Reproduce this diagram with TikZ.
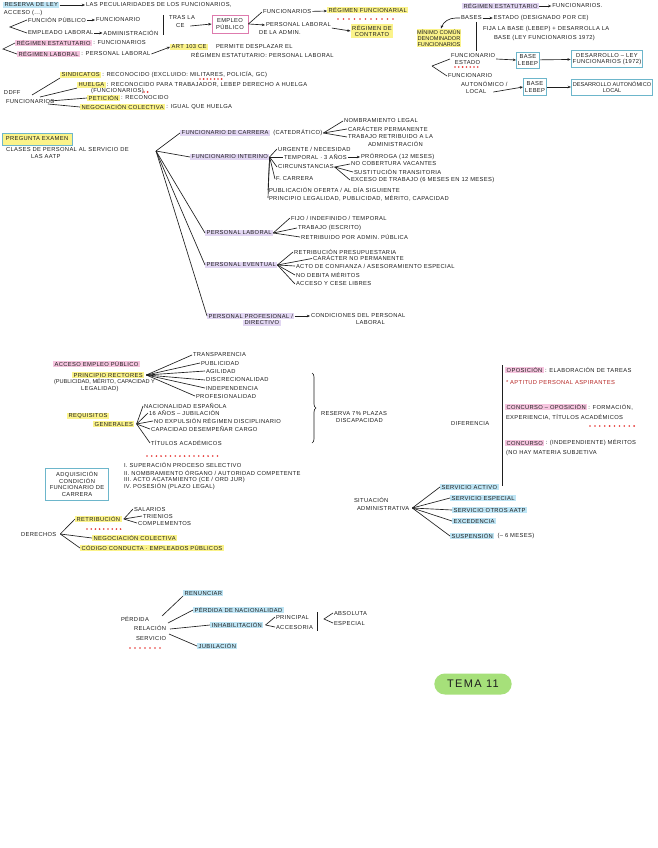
\documentclass[tikz,border=0pt]{standalone}
\usepackage{fontspec}
\setmainfont{Liberation Sans}
\usetikzlibrary{arrows.meta,positioning,decorations.pathreplacing,shapes.misc}
\definecolor{ink}{HTML}{1E1E1E}
\definecolor{yel}{HTML}{FBF38A}
\definecolor{pnk}{HTML}{F6C5DF}
\definecolor{lav}{HTML}{E2D6F3}
\definecolor{lblue}{HTML}{BEE5F5}
\definecolor{bblue}{HTML}{6DB6CB}
\definecolor{pbox}{HTML}{DE7BAE}
\definecolor{grn}{HTML}{A6E07A}
\definecolor{rdot}{HTML}{E5312F}
\newcommand\hw{\fontsize{5.8}{6.4}\selectfont\addfontfeature{LetterSpace=6}}
\newcommand\hwn{\fontsize{5.6}{6.2}\selectfont}
\newcommand\reddots[4]{\foreach \i in {1,...,#3}{\fill[rdot] (#1+\i*#4-#4,#2) circle (0.9);}}
\begin{document}
\begin{tikzpicture}[x=1pt,y=-1pt,
 t/.style={anchor=west,inner sep=0.8pt,font=\hw,text=ink},
 hy/.style={t,fill=yel,inner xsep=1.5pt},
 hp/.style={t,fill=pnk,inner xsep=1.5pt},
 hl/.style={t,fill=lav,inner xsep=1.5pt},
 hb/.style={t,fill=lblue,inner xsep=1.5pt},
 ln/.style={line width=0.65pt,draw=ink},
 ar/.style={ln,-{Stealth[length=3.2pt,width=2.6pt]}},
 bx/.style={draw=bblue,line width=0.9pt,align=center,font=\hw,text=ink,inner sep=1.5pt},
]
\fill[white] (0,0) rectangle (658,848);
\useasboundingbox (0,0) rectangle (658,848);

% ---------- top left ----------
\node[hb] (rl) at (3,5) {RESERVA DE LEY};
\node[t] (pec) at (85,5) {LAS PECULIARIDADES DE LOS FUNCIONARIOS,};
\draw[ar] (rl) -- (pec);
\node[t] (acc) at (3,13) {ACCESO (...)};
\coordinate (f1) at (10,27);
\node[t] (fp) at (27,20) {FUNCIÓN PÚBLICO};
\node[t,right=8pt of fp] (fn) {FUNCIONARIO};
\draw[ar] (fp) -- (fn);
\node[t] (el) at (27,33) {EMPLEADO LABORAL};
\node[t,right=8pt of el] (adm) {ADMINISTRACIÓN};
\draw[ar] (el) -- (adm);
\draw[ln] (fp.west) -- (f1) -- (el.west);

\draw[ln] (163,15) -- (163,35);
\node[t] (tras) at (168,18) {TRAS LA};
\node[t] (ce) at (175,26) {CE};
\node[draw=pbox,line width=0.9pt,align=center,font=\hw,text=ink,minimum width=36pt,minimum height=18pt,inner sep=1pt] (ep) at (230,24) {EMPLEO\\PÚBLICO};
\draw[ar] ([xshift=5pt]ce.east) -- (ep.west);
\node[t] (fun2) at (262,12) {FUNCIONARIOS};
\node[hy] (rf) at (327,10) {RÉGIMEN FUNCIONARIAL};
\draw[ar] (fun2) -- (rf);
\reddots{338}{19}{11}{5.5}
\draw[ln] (ep.east) -- (fun2.west);
\node[t] (plab) at (265,25) {PERSONAL LABORAL};
\node[t] (dla) at (258,33) {DE LA ADMIN.};
\draw[ar] (ep.east) -- (plab.west);
\node[hy,anchor=center,align=center] (rc) at (372,31) {RÉGIMEN DE\\CONTRATO};
\draw[ar] (plab.south east) -- (rc.west);

\node[hp] (re1) at (15,43) {RÉGIMEN ESTATUTARIO};
\node[t,right=0pt of re1] (re1b) {: FUNCIONARIOS};
\node[hp] (rl1) at (17,54) {RÉGIMEN LABORAL};
\node[t,right=0pt of rl1] (rl1b) {: PERSONAL LABORAL};
\coordinate (f2) at (3,49);
\draw[ln] (re1.west) -- (f2) -- (rl1.west);
\node[hy] (art) at (170,47) {ART 103 CE};
\node[t] (perm) at (215,47) {PERMITE DESPLAZAR EL};
\node[t] (rep) at (190,55) {RÉGIMEN ESTATUTARIO: PERSONAL LABORAL};
\draw[ar] (rl1b.east) -- (art.west);

% ---------- top right ----------
\node[hl] (rest) at (462,6) {RÉGIMEN ESTATUTARIO};
\node[t,right=12pt of rest] (rfun) {FUNCIONARIOS.};
\draw[ar] (rest) -- (rfun);
\node[t] (bases) at (460,18) {BASES};
\node[t,right=10pt of bases] (estado) {ESTADO (DESIGNADO POR CE)};
\draw[ar] (bases) -- (estado);
\node[hy,anchor=center,align=center,inner sep=0.6pt,font=\hwn] (mcd) at (439,38) {MÍNIMO COMÚN\\DENOMINADOR\\FUNCIONARIOS};
\draw[ar] (bases.west) -- ++(-4,0) to[out=180,in=70] ([xshift=2pt]mcd.north);
\draw[ln] (476,22) -- (476,51);
\node[t] (fija) at (482,29) {FIJA LA BASE (LEBEP) + DESARROLLA LA};
\node[t] (base72) at (493,38) {BASE (LEY FUNCIONARIOS 1972)};

\node[t,align=left] (fest) at (450,59) {FUNCIONARIO\\\ \ ESTADO};
\reddots{455}{67}{7}{3.8}
\node[t] (faut1) at (447,76) {FUNCIONARIO};
\node[t] (faut2) at (460,84) {AUTONÓMICO /};
\node[t] (faut3) at (465,92) {LOCAL};
\coordinate (f3) at (432,66);
\draw[ln] (f3) -- (fest.west);
\draw[ln] (f3) -- (faut1.west);
\node[bx,minimum width=22pt,minimum height=16pt] (bl1) at (528,60) {BASE\\LEBEP};
\node[bx,minimum height=17pt] (dl1) at (607,59) {DESARROLLO – LEY\\FUNCIONARIOS (1972)};
\draw[ar] (fest.east) -- (bl1.west);
\draw[ar] (bl1) -- (dl1);
\node[bx,minimum width=22pt,minimum height=17pt] (bl2) at (535,87) {BASE\\LEBEP};
\node[bx,minimum height=16pt,font=\hwn] (dl2) at (612,87) {DESARROLLO AUTONÓMICO\\LOCAL};
\draw[ar] ([xshift=6pt]faut3.east) -- (bl2.west);
\draw[ar] (bl2) -- (dl2);

% ---------- DDFF ----------
\node[t] (dd1) at (3,93) {DDFF};
\node[t] (dd2) at (5,102) {FUNCIONARIOS};
\node[hy] (sind) at (60,75) {SINDICATOS};
\node[t,right=0pt of sind] (sindb) {: RECONOCIDO (EXCLUIDO: MILITARES, POLICÍA, GC)};
\node[hy] (hue) at (77,85) {HUELGA};
\node[t,right=0pt of hue] (hueb) {: RECONOCIDO PARA TRABAJADOR, LEBEP DERECHO A HUELGA};
\reddots{200}{79}{7}{3.6}
\node[t] (hue2) at (90,91) {(FUNCIONARIOS)};
\reddots{144}{92}{2}{3.6}
\node[hy] (pet) at (87,98) {PETICIÓN};
\node[t,right=0pt of pet] (petb) {: RECONOCIDO};
\node[hy] (neg) at (80,107) {NEGOCIACIÓN COLECTIVA};
\node[t,right=0pt of neg] (negb) {: IGUAL QUE HUELGA};
\coordinate (d1) at (32,95);
\coordinate (d2) at (40,97);
\coordinate (d3) at (50,101);
\coordinate (d4) at (48,104);
\draw[ln] (d1) -- (sind.south west);
\draw[ln] (d2) -- (hue.south west);
\draw[ln] (d3) -- (pet.west);
\draw[ln] (d4) -- (neg.west);

% ---------- clases de personal ----------
\node[draw=bblue,fill=yel,line width=0.9pt,font=\hw,text=ink,minimum width=70pt,minimum height=12pt,inner sep=1pt] (pe) at (37,139) {PREGUNTA EXAMEN};
\node[t] (cla) at (5,150) {CLASES DE PERSONAL AL SERVICIO DE};
\node[t] (aatp) at (30,157) {LAS AATP};
\coordinate (fan) at (156,151);

\node[hl] (fc) at (180,133) {FUNCIONARIO DE CARRERA};
\node[t,right=2pt of fc] (cat) {(CATEDRÁTICO)};
\node[t] (nl) at (343,121) {NOMBRAMIENTO LEGAL};
\node[t] (cp) at (347,129) {CARÁCTER PERMANENTE};
\node[t] (tr) at (347,137) {TRABAJO RETRIBUIDO A LA};
\node[t] (adm2) at (367,144) {ADMINISTRACIÓN};
\draw[ln] (cat.east) -- (nl.west);
\draw[ln] (cat.east) -- (cp.west);
\draw[ln] (cat.east) -- (tr.west);

\node[hl] (fi) at (190,157) {FUNCIONARIO INTERINO};
\node[t] (urg) at (277,149) {URGENTE / NECESIDAD};
\node[t] (tem) at (283,157) {TEMPORAL · 3 AÑOS};
\node[t] (pro) at (360,157) {PRÓRROGA (12 MESES)};
\draw[ar] (tem) -- (pro);
\node[t] (cir) at (277,167) {CIRCUNSTANCIAS};
\node[t] (ncv) at (350,164) {NO COBERTURA VACANTES};
\node[t] (stt) at (353,172) {SUSTITUCIÓN TRANSITORIA};
\node[t] (exc) at (350,180) {EXCESO DE TRABAJO (6 MESES EN 12 MESES)};
\draw[ln] (cir.east) -- (ncv.west);
\draw[ln] (cir.east) -- (stt.west);
\draw[ln] (cir.east) -- (exc.west);
\node[t] (fca) at (275,179) {F. CARRERA};
\node[t] (pub) at (268,190) {PUBLICACIÓN OFERTA / AL DÍA SIGUIENTE};
\node[t] (ppl) at (268,198) {PRINCIPIO LEGALIDAD, PUBLICIDAD, MÉRITO, CAPACIDAD};
\foreach \n in {urg,tem,cir,fca,pub,ppl} \draw[ln] (fi.east) -- (\n.west);

\node[hl] (pl) at (205,233) {PERSONAL LABORAL};
\node[t] (fij) at (290,218) {FIJO / INDEFINIDO / TEMPORAL};
\node[t] (tra) at (297,228) {TRABAJO (ESCRITO)};
\node[t] (ret) at (300,237) {RETRIBUIDO POR ADMIN. PÚBLICA};
\foreach \n in {fij,tra,ret} \draw[ln] (pl.east) -- (\n.west);

\node[hl] (pev) at (205,265) {PERSONAL EVENTUAL};
\node[t] (rp) at (293,252) {RETRIBUCIÓN PRESUPUESTARIA};
\node[t] (cnp) at (312,258.5) {CARÁCTER NO PERMANENTE};
\node[t] (acf) at (295,266) {ACTO DE CONFIANZA / ASESORAMIENTO ESPECIAL};
\node[t] (ndm) at (295,275) {NO DEBITA MÉRITOS};
\node[t] (acl) at (295,284) {ACCESO Y CESE LIBRES};
\foreach \n in {rp,cnp,acf,ndm,acl} \draw[ln] (pev.east) -- (\n.west);

\node[hl] (pp1) at (207,316) {PERSONAL PROFESIONAL /};
\node[hl] (pp2) at (243,323) {DIRECTIVO};
\node[t] (cdp) at (310,316) {CONDICIONES DEL PERSONAL};
\node[t] (cdl) at (355,323) {LABORAL};
\draw[ar] (pp1.east) -- (cdp.west);

\draw[ln] (fan) -- (fc.west);
\draw[ln] (fan) -- (fi.west);
\draw[ln] (fan) -- (pl.west);
\draw[ln] (fan) -- (pev.west);
\draw[ln] (fan) -- (pp1.west);

% ---------- acceso empleo publico ----------
\node[hp] (aep) at (53,364) {ACCESO EMPLEO PÚBLICO};
\node[hy] (pr) at (72,375) {PRINCIPIO RECTORES};
\node[t,font=\hwn] (prd) at (53,382) {(PUBLICIDAD, MÉRITO, CAPACIDAD Y};
\node[t] (leg) at (80,389) {LEGALIDAD)};
\node[t] (tp) at (192,355) {TRANSPARENCIA};
\node[t] (pu) at (200,363) {PUBLICIDAD};
\node[t] (ag) at (205,371) {AGILIDAD};
\node[t] (dis) at (205,380) {DISCRECIONALIDAD};
\node[t] (ind) at (205,388) {INDEPENDENCIA};
\node[t] (prof) at (195,396) {PROFESIONALIDAD};
\foreach \n in {tp,pu,ag,dis,ind,prof} \draw[ln] ([xshift=2pt]pr.east) -- (\n.west);

\node[hy] (req1) at (67,416) {REQUISITOS};
\node[hy] (req2) at (93,424) {GENERALES};
\node[t] (nac) at (143,406) {NACIONALIDAD ESPAÑOLA};
\node[t] (jub) at (148,413) {16 AÑOS – JUBILACIÓN};
\node[t] (nex) at (153,421) {NO EXPULSIÓN RÉGIMEN DISCIPLINARIO};
\node[t] (cap) at (150,429) {CAPACIDAD DESEMPEÑAR CARGO};
\node[t] (tit) at (150,443) {TÍTULOS ACADÉMICOS};
\foreach \n in {nac,jub,nex,cap,tit} \draw[ln] ([xshift=2pt]req2.east) -- (\n.west);
\reddots{147}{456}{16}{4.7}

\draw[ln,decorate,decoration={brace,amplitude=4pt}] (312,373) -- (312,443);
\node[t] (res) at (320,413) {RESERVA 7\% PLAZAS};
\node[t] (disc) at (335,420) {DISCAPACIDAD};

% ---------- diferencia ----------
\draw[ln] (502,365) -- (502,486);
\node[t] (dif) at (450,423) {DIFERENCIA};
\node[hp] (op) at (505,370) {OPOSICIÓN};
\node[t,right=0pt of op] (opb) {: ELABORACIÓN DE TAREAS};
\node[t,text=rdot!80!black] (apt) at (505,382) {* APTITUD PERSONAL ASPIRANTES};
\node[hp] (co) at (505,407) {CONCURSO – OPOSICIÓN};
\node[t,right=0pt of co] (cob) {: FORMACIÓN,};
\node[t] (expe) at (505,417) {EXPERIENCIA, TÍTULOS ACADÉMICOS};
\reddots{590}{426}{10}{4.9}
\node[hp] (con) at (505,443) {CONCURSO};
\node[t,right=0pt of con] (conb) {: (INDEPENDIENTE) MÉRITOS};
\node[t] (nhm) at (505,453) {(NO HAY MATERIA SUBJETIVA};

% ---------- situacion administrativa ----------
\node[t] (sit1) at (353,500) {SITUACIÓN};
\node[t] (sit2) at (356,508) {ADMINISTRATIVA};
\node[hb] (sa) at (440,487) {SERVICIO ACTIVO};
\node[hb] (se) at (450,498) {SERVICIO ESPECIAL};
\node[hb] (so) at (452,510) {SERVICIO OTROS AATP};
\node[hb] (ex) at (452,521) {EXCEDENCIA};
\node[hb] (sus) at (450,536) {SUSPENSIÓN};
\node[t,right=2pt of sus] (susb) {(– 6 MESES)};
\foreach \n in {sa,se,so,ex,sus} \draw[ln] ([xshift=2pt]sit2.east) -- (\n.west);

% ---------- adquisicion ----------
\node[bx,minimum width=63pt,minimum height=32pt] (adq) at (77,484) {ADQUISICIÓN\\CONDICIÓN\\FUNCIONARIO DE\\CARRERA};
\node[t] (r1) at (123,465) {I. SUPERACIÓN PROCESO SELECTIVO};
\node[t] (r2) at (123,473) {II. NOMBRAMIENTO ÓRGANO / AUTORIDAD COMPETENTE};
\node[t] (r3) at (123,480) {III. ACTO ACATAMIENTO (CE / ORD JUR)};
\node[t] (r4) at (123,487) {IV. POSESIÓN (PLAZO LEGAL)};

% ---------- derechos ----------
\node[t] (der) at (20,534) {DERECHOS};
\node[hy] (ret2) at (75,519) {RETRIBUCIÓN};
\node[t] (sal) at (133,509) {SALARIOS};
\node[t] (tri) at (142,516) {TRIENIOS};
\node[t] (com) at (137,523) {COMPLEMENTOS};
\foreach \n in {sal,tri,com} \draw[ln] ([xshift=2pt]ret2.east) -- (\n.west);
\reddots{87}{529}{9}{4.2}
\node[hy] (nc2) at (92,538) {NEGOCIACIÓN COLECTIVA};
\node[hy] (cod) at (80,548) {CÓDIGO CONDUCTA · EMPLEADOS PÚBLICOS};
\foreach \n in {ret2,nc2,cod} \draw[ln] ([xshift=3pt]der.east) -- (\n.west);

% ---------- perdida ----------
\node[t] (pe1) at (120,619) {PÉRDIDA};
\node[t] (pe2) at (133,628) {RELACIÓN};
\node[t] (pe3) at (135,638) {SERVICIO};
\reddots{130}{648}{7}{5}
\node[hb] (ren) at (183,593) {RENUNCIAR};
\node[hb] (pnac) at (193,610) {PÉRDIDA DE NACIONALIDAD};
\node[hb] (inh) at (210,625) {INHABILITACIÓN};
\node[hb] (jub2) at (197,646) {JUBILACIÓN};
\coordinate (p1) at (162,616);
\coordinate (p2) at (168,623);
\coordinate (p3) at (170,629);
\coordinate (p4) at (169,634);
\draw[ln] (p1) -- (ren.south west);
\draw[ln] (p2) -- (pnac.west);
\draw[ln] (p3) -- (inh.west);
\draw[ln] (p4) -- (jub2.west);
\node[t] (prin) at (275,617) {PRINCIPAL};
\node[t] (acce) at (275,627) {ACCESORIA};
\draw[ln] ([xshift=2pt]inh.east) -- (prin.west);
\draw[ln] ([xshift=2pt]inh.east) -- (acce.west);
\draw[ln] (317,612) -- (317,631);
\node[t] (abso) at (333,613) {ABSOLUTA};
\node[t] (espe) at (333,623) {ESPECIAL};
\coordinate (q) at (324,619);
\draw[ln] (abso.west) -- (q) -- (espe.west);

% ---------- tema ----------
\node[fill=grn,rounded rectangle,minimum width=84pt,minimum height=21pt,text=ink,font=\fontsize{11}{12}\selectfont\addfontfeature{LetterSpace=12}] (tema) at (473,684) {TEMA 11};
\end{tikzpicture}
\end{document}
